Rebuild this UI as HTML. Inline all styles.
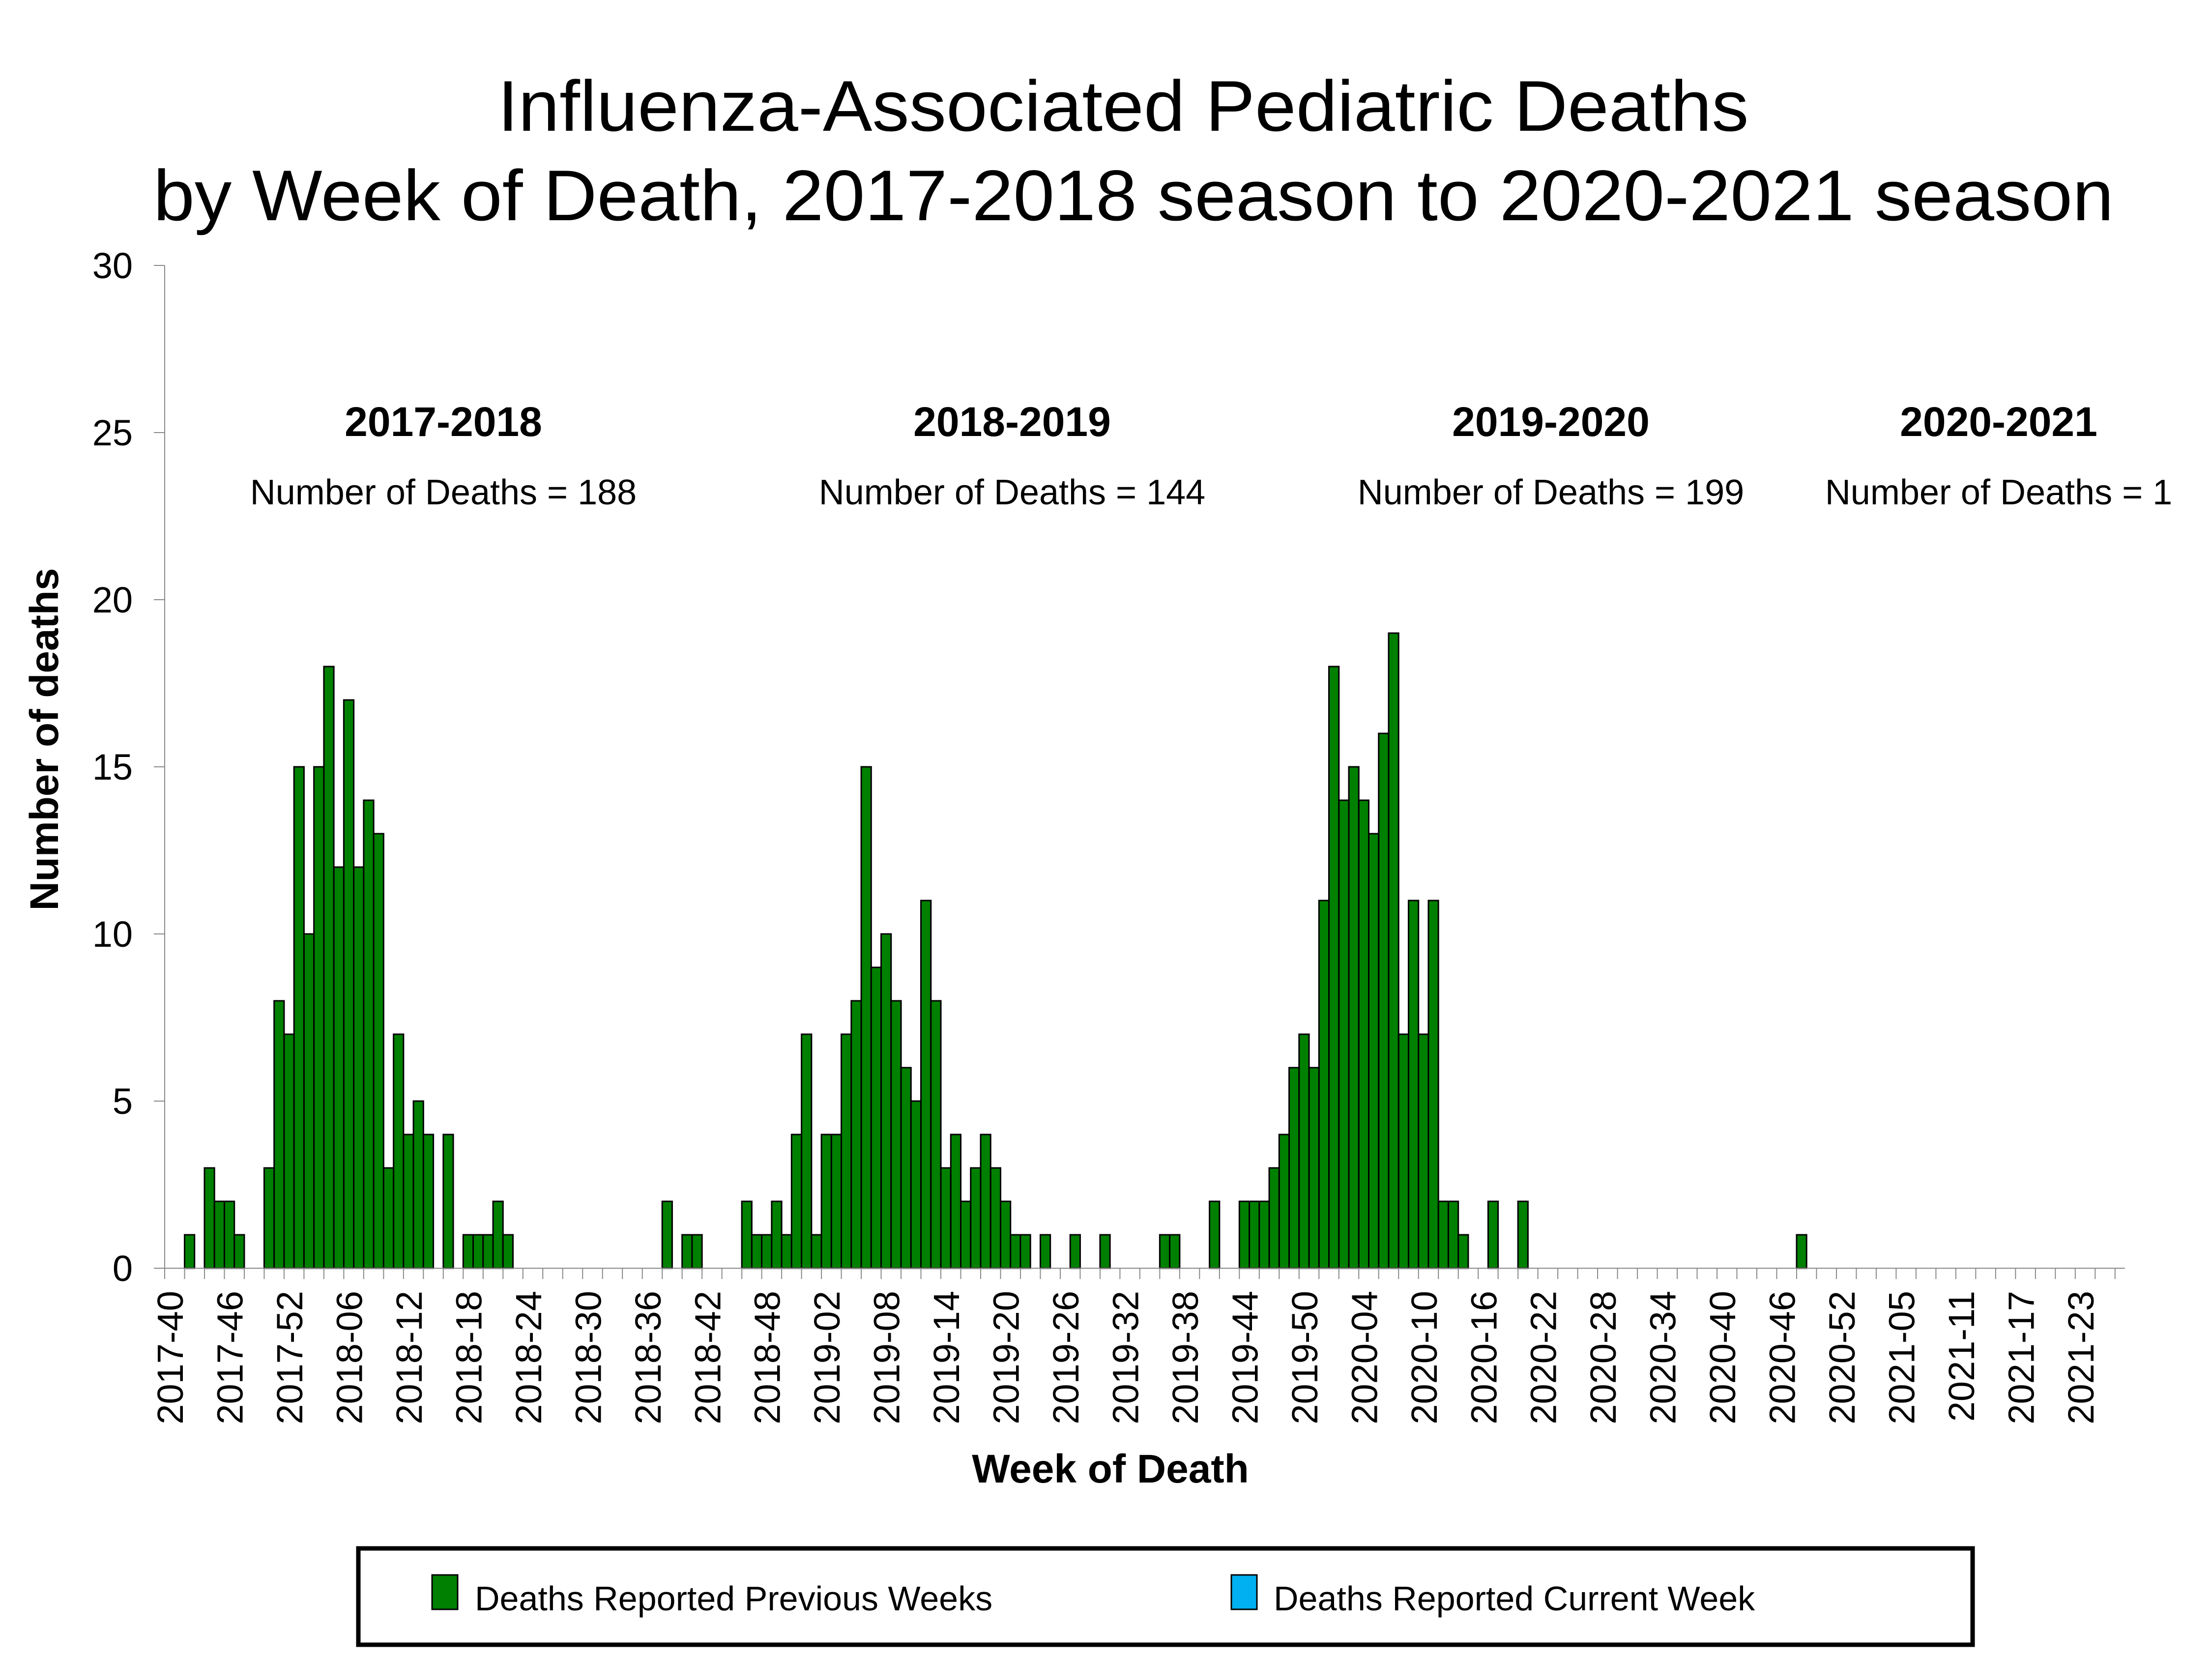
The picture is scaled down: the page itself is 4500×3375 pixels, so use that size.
<!DOCTYPE html>
<html><head><meta charset="utf-8"><title>Influenza-Associated Pediatric Deaths</title>
<style>html,body{margin:0;padding:0;background:#fff;}svg{display:block;font-family:"Liberation Sans",Arial,sans-serif;}</style>
</head><body>
<svg id="chart" xmlns="http://www.w3.org/2000/svg" width="4500" height="3375" viewBox="0 0 4500 3375">
<rect x="0" y="0" width="4500" height="3375" fill="#fff"/>
<text x="2285" y="266" font-size="146" text-anchor="middle" textLength="2545" lengthAdjust="spacingAndGlyphs">Influenza-Associated Pediatric Deaths</text>
<text x="2306" y="448" font-size="146" text-anchor="middle" textLength="3988" lengthAdjust="spacingAndGlyphs">by Week of Death, 2017-2018 season to 2020-2021 season</text>
<text transform="translate(118,1504) rotate(-90)" font-size="82" font-weight="bold" text-anchor="middle">Number of deaths</text>
<text x="2259" y="3016" font-size="82" font-weight="bold" text-anchor="middle">Week of Death</text>
<g id="seasons"></g>
<g id="yaxis"></g>
<g id="bars"></g>
<g id="xaxis"></g>
<g>
<rect x="729" y="3150" width="3284" height="196" fill="#fff" stroke="#000" stroke-width="9"/>
<rect x="879" y="3204" width="52" height="70" fill="#008000" stroke="#000" stroke-width="3"/>
<text x="966" y="3276" font-size="70">Deaths Reported Previous Weeks</text>
<rect x="2505" y="3204" width="52" height="70" fill="#00b0f0" stroke="#000" stroke-width="3"/>
<text x="2591" y="3276" font-size="70">Deaths Reported Current Week</text>
</g>
</svg>
<script>
const seasonYears = [2017, 2018, 2019, 2020, 2021];
const seasonWeeksFirst = [40, 1, 1, 1, 1];
const seasonWeeksLast = [52, 52, 52, 53, 27];
const deaths2017 = [0,0,1,0,3,2,2,1,0,0,3,8,7];
const deaths2018 = [15,10,15,18,12,17,12,14,13,3,7,4,5,4,0,4,0,1,1,1,2,1,0,0,0,0,0,0,0,0,0,0,0,0,0,0,0,2,0,1,1,0,0,0,0,2,1,1,2,1,4,7];
const deaths2019 = [1,4,4,7,8,15,9,10,8,6,5,11,8,3,4,2,3,4,3,2,1,1,0,1,0,0,1,0,0,1,0,0,0,0,0,1,1,0,0,0,2,0,0,2,2,2,3,4,6,7,6,11];
const deaths2020 = [18,14,15,14,13,16,19,7,11,7,11,2,2,1,0,0,2,0,0,2,0,0,0,0,0,0,0,0,0,0,0,0,0,0,0,0,0,0,0,0,0,0,0,0,0,0,0,1,0,0,0,0,0];
const deaths2021 = [0,0,0,0,0,0,0,0,0,0,0,0,0,0,0,0,0,0,0,0,0,0,0,0,0,0,0];
const yTicks = [0,5,10,15,20,25,30];
const seasonNames = ["2017-2018","2018-2019","2019-2020","2020-2021"];
const seasonTotals = [188,144,199,1];
const seasonLabelX = [902,2059,3155,4066];

const NS = "http://www.w3.org/2000/svg";
const categories = [];
for (let s = 0; s < seasonYears.length; s++) {
  for (let w = seasonWeeksFirst[s]; w <= seasonWeeksLast[s]; w++) {
    categories.push(seasonYears[s] + "-" + (w < 10 ? "0" + w : w));
  }
}
const values = deaths2017.concat(deaths2018, deaths2019, deaths2020, deaths2021);

const X0 = 335, X1 = 4323, Y0 = 2580, YTOP = 540, YMAX = 30;
const bw = (X1 - X0) / categories.length;
function xPos(i) { return X0 + i * bw; }
function yPos(v) { return Y0 - (v / YMAX) * (Y0 - YTOP); }
function mk(tag, attrs, parent) {
  const e = document.createElementNS(NS, tag);
  for (const k in attrs) e.setAttribute(k, attrs[k]);
  parent.appendChild(e);
  return e;
}

const yaxis = document.getElementById('yaxis');
const yl = mk('line', {x1: X0, y1: YTOP, x2: X0, y2: Y0, stroke: '#888', 'stroke-width': 2}, yaxis);


yTicks.forEach(function (t) {
  const tk = mk('line', {x1: X0 - 22, y1: yPos(t), x2: X0, y2: yPos(t), stroke: '#888', 'stroke-width': 2}, yaxis);
  
  
  const tl = mk('text', {x: 270, y: yPos(t) + 26, 'font-size': 74, 'text-anchor': 'end'}, yaxis);
  
  
  tl.textContent = t;
});

const bars = document.getElementById('bars');
values.forEach(function (v, i) {
  if (v <= 0) return;
  const r = mk('rect', {x: xPos(i), y: yPos(v), width: bw, height: Y0 - yPos(v), fill: '#008000', stroke: '#000', 'stroke-width': 3}, bars);
  
  
});

const xaxis = document.getElementById('xaxis');
const xl = mk('line', {x1: X0, y1: Y0, x2: X1, y2: Y0, stroke: '#888', 'stroke-width': 2}, xaxis);


for (let i = 0; i <= categories.length; i += 2) {
  const tk = mk('line', {x1: xPos(i), y1: Y0, x2: xPos(i), y2: Y0 + 22, stroke: '#888', 'stroke-width': 2}, xaxis);
  
  
}
for (let i = 0; i < categories.length; i += 6) {
  const cx = xPos(i) + bw / 2;
  const tl = mk('text', {transform: 'translate(' + (cx + 27) + ',2626) rotate(-90)', 'font-size': 74, 'text-anchor': 'end'}, xaxis);
  
  
  tl.textContent = categories[i];
}

const seasons = document.getElementById('seasons');
seasonNames.forEach(function (n, k) {
  const t1 = mk('text', {x: seasonLabelX[k], y: 887, 'font-size': 84, 'font-weight': 'bold', 'text-anchor': 'middle'}, seasons);
  
  
  t1.textContent = n;
  const t2 = mk('text', {x: seasonLabelX[k], y: 1026, 'font-size': 72, 'text-anchor': 'middle'}, seasons);
  
  
  t2.textContent = 'Number of Deaths = ' + seasonTotals[k];
});
</script>
</body></html>
